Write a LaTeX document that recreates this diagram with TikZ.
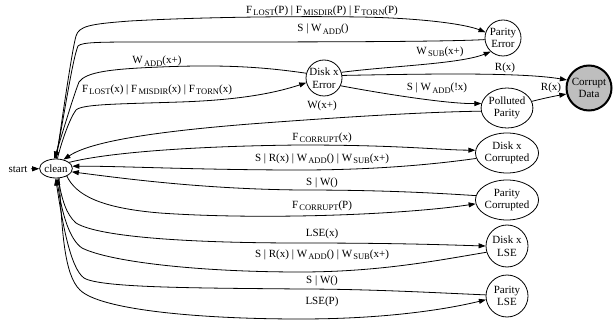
\documentclass[tikz,border=0pt]{standalone}
\usepackage{fontspec}
\setmainfont{Liberation Serif}
\usetikzlibrary{arrows.meta,shapes.geometric}
\newcommand{\lsub}[1]{\kern1.2pt\raisebox{-2.4pt}{\fontsize{8.5}{9}\selectfont #1}}

\begin{document}
\begin{tikzpicture}[x=1pt, y=-1pt,
    font=\fontsize{11}{12.5}\selectfont,
    ellstate/.style={draw, ellipse, inner sep=0pt, align=center, line width=0.8pt},
    circstate/.style={draw, circle, inner sep=0pt, align=center, line width=0.8pt},
    edge/.style={-{Triangle[length=7pt,width=5pt]}, line width=0.8pt},
    lbl/.style={inner sep=0pt}]
    \useasboundingbox (0,0) rectangle (613,323);

    % States
    \node (start) at (18,169) {start};
    \node[ellstate, minimum width=32pt, minimum height=19pt] (clean) at (56,168.5) {clean};
    \node[circstate, minimum size=36pt, inner sep=-1pt] (perr) at (503,38) {Parity\\Error};
    \node[circstate, minimum size=36pt, inner sep=-1.5pt] (derr) at (324,78) {Disk x\\Error};
    \node[circstate, minimum size=45pt, line width=2pt, fill={rgb,255:red,190;green,190;blue,190}] (cdata) at (589,88) {Corrupt\\Data};
    \node[ellstate, minimum height=40pt] (ppar) at (507,108) {Polluted\\Parity};
    \node[ellstate, minimum height=40pt] (dcor) at (507,153) {Disk x\\Corrupted};
    \node[ellstate, minimum height=40pt] (pcor) at (507,200) {Parity\\Corrupted};
    \node[circstate, minimum size=42pt] (dlse) at (507,246) {Disk x\\LSE};
    \node[circstate, minimum size=42pt] (plse) at (507,296) {Parity\\LSE};

    \draw[edge] (start) -- (clean);

    % Error transitions
    \draw[edge] (clean.88) .. controls (62,120) and (72,50) .. (76,36)
        .. controls (79,26) and (90,24) .. (130,21)
        .. controls (200,17) and (300,16) .. (360,17)
        .. controls (420,18) and (465,24) .. (perr.162);
    \draw[edge] (perr.185) .. controls (440,42) and (300,42) .. (150,42)
        .. controls (100,42) and (82,42) .. (78,46)
        .. controls (72,60) and (62,130) .. (clean.95);
    \draw[edge] (derr.165) .. controls (270,68) and (230,64) .. (160,67)
        .. controls (110,69) and (86,72) .. (79,82)
        .. controls (72,100) and (62,135) .. (clean.100);
    \draw[edge] (clean.82) .. controls (62,140) and (70,118) .. (76,110)
        .. controls (82,104) and (120,104) .. (180,102)
        .. controls (240,100) and (275,93) .. (derr.195);
    \draw[edge] (derr.18) .. controls (390,66) and (460,64) .. (perr.228);
    \draw[edge] (derr.8) .. controls (420,74) and (520,72) .. (cdata.160);
    \draw[edge] (derr.-25) .. controls (390,95) and (450,104) .. (ppar.170);
    \draw[edge] (ppar.15) .. controls (545,98) and (555,96) .. (cdata.195);
    \draw[edge] (ppar.187) .. controls (420,112) and (330,118) .. (250,124)
        .. controls (150,132) and (90,142) .. (clean.50);

    % Corruption transitions
    \draw[edge] (clean.25) .. controls (110,152) and (200,146) .. (300,145)
        .. controls (400,145) and (440,150) .. (dcor.175);
    \draw[edge] (dcor.190) .. controls (430,165) and (370,170) .. (300,170)
        .. controls (200,170) and (120,166) .. (clean.8);
    \draw[edge] (pcor.172) .. controls (420,192) and (370,190) .. (300,190)
        .. controls (200,189) and (120,178) .. (clean.-12);
    \draw[edge] (clean.-35) .. controls (76,195) and (100,208) .. (160,213)
        .. controls (260,220) and (400,215) .. (pcor.187);

    % LSE transitions
    \draw[edge] (clean.-78) .. controls (62,200) and (66,214) .. (76,223)
        .. controls (100,238) and (200,243) .. (300,243)
        .. controls (400,243) and (450,245) .. (dlse.180);
    \draw[edge] (dlse.197) .. controls (440,260) and (380,272) .. (300,272)
        .. controls (200,272) and (110,262) .. (82,248)
        .. controls (70,240) and (62,215) .. (clean.-85);
    \draw[edge] (plse.177) .. controls (440,293) and (370,289) .. (300,289)
        .. controls (200,288) and (100,288) .. (84,278)
        .. controls (70,268) and (62,220) .. (clean.-92);
    \draw[edge] (clean.-72) .. controls (62,230) and (64,275) .. (80,290)
        .. controls (100,310) and (200,319) .. (300,319)
        .. controls (400,319) and (460,306) .. (plse.190);

    % Labels
    \node[lbl] (l1) at (322,11) {F\lsub{LOST}(P) | F\lsub{MISDIR}(P) | F\lsub{TORN}(P)};
    \node[lbl] (l2) at (323,29) {S | W\lsub{ADD}()};
    \node[lbl] (l3) at (157,61) {W\lsub{ADD}(x+)};
    \node[lbl] (l4) at (157,90) {F\lsub{LOST}(x) | F\lsub{MISDIR}(x) | F\lsub{TORN}(x)};
    \node[lbl] (l5) at (440,52) {W\lsub{SUB}(x+)};
    \node[lbl] (l6) at (505,68) {R(x)};
    \node[lbl] (l7) at (437,88) {S | W\lsub{ADD}(!x)};
    \node[lbl] (l8) at (551,88) {R(x)};
    \node[lbl] (l9) at (322,106) {W(x+)};
    \node[lbl] (l10) at (322,138) {F\lsub{CORRUPT}(x)};
    \node[lbl] (l11) at (322,159) {S | R(x) | W\lsub{ADD}() | W\lsub{SUB}(x+)};
    \node[lbl] (l12) at (322,183) {S | W()};
    \node[lbl] (l13) at (322,206) {F\lsub{CORRUPT}(P)};
    \node[lbl] (l14) at (322,234) {LSE(x)};
    \node[lbl] (l15) at (322,255) {S | R(x) | W\lsub{ADD}() | W\lsub{SUB}(x+)};
    \node[lbl] (l16) at (322,281) {S | W()};
    \node[lbl] (l17) at (322,302) {LSE(P)};
\end{tikzpicture}
\end{document}
